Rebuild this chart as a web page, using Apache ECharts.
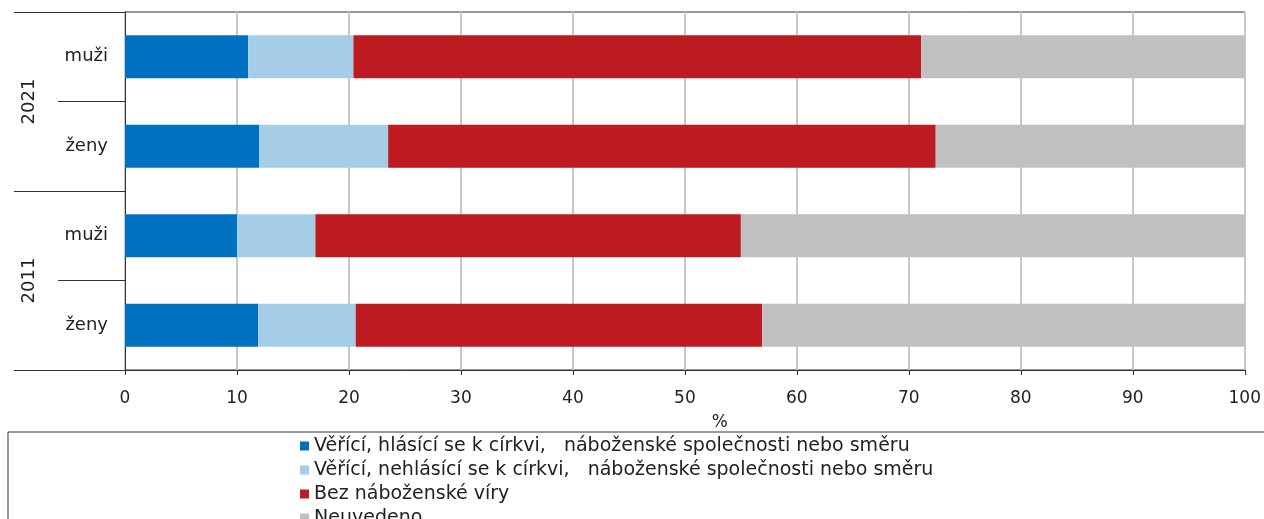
<!DOCTYPE html>
<html>
<head>
<meta charset="utf-8">
<script src="https://cdn.jsdelivr.net/npm/echarts@6/dist/echarts.min.js"></script>
<style>
  html, body { margin: 0; padding: 0; background: #fff; }
  #main { width: 1264px; height: 519px; }
</style>
</head>
<body>
<div id="main"></div>
<script>
// rows, top to bottom
const categories = ['muži', 'ženy', 'muži', 'ženy'];
const years = ['2021', '2011'];
const xTicks = [0, 10, 20, 30, 40, 50, 60, 70, 80, 90, 100];

const names = [
  'Věřící, hlásící se k církvi,   náboženské společnosti nebo směru',
  'Věřící, nehlásící se k církvi,   náboženské společnosti nebo směru',
  'Bez náboženské víry',
  'Neuvedeno'
];
const hlasici = [11.0, 12.0, 10.0, 11.9];
const nehlasici = [9.4, 11.5, 7.0, 8.7];
const bezViry = [50.7, 48.9, 38.0, 36.3];
const neuvedeno = [28.9, 27.6, 45.0, 43.1];

const colors = ['#0070c0', '#a6cde8', '#be1a22', '#c0c0c0'];
const font = 'DejaVu Sans, Liberation Sans, sans-serif';

const chart = echarts.init(document.getElementById('main'));

const seriesData = [hlasici, nehlasici, bezViry, neuvedeno];

chart.setOption({
  animation: false,
  backgroundColor: '#fff',
  color: colors,
  textStyle: { fontFamily: font },
  grid: {
    left: 125, right: 18, top: 12, bottom: 149,
    show: true, borderColor: '#333', borderWidth: 1
  },
  legend: {
    orient: 'vertical',
    left: 8, top: 432,
    height: 200, // keep one column, the box runs off the bottom
    padding: [4, 600, 20, 292],
    borderColor: '#333', borderWidth: 1,
    itemWidth: 9, itemHeight: 9, itemGap: 4,
    icon: 'rect',
    textStyle: { fontSize: 19, lineHeight: 20, color: '#222', fontFamily: font },
    data: names
  },
  xAxis: {
    type: 'value',
    min: 0, max: 100, interval: 10,
    name: '%',
    nameLocation: 'middle',
    nameGap: 44,
    nameTextStyle: { fontSize: 17, color: '#222', padding: [0, 0, 0, 70] },
    axisLine: { show: true, lineStyle: { color: '#333', width: 1 } },
    axisTick: { show: true, length: 5, lineStyle: { color: '#333' } },
    axisLabel: { fontSize: 17, color: '#222', margin: 20,
      formatter: v => xTicks.includes(v) ? String(v) : '' },
    splitLine: { show: true, lineStyle: { color: '#c8c8c8', width: 2 } }
  },
  yAxis: [
    {
      type: 'category',
      inverse: true,
      data: categories,
      axisLine: { show: true, lineStyle: { color: '#333' } },
      axisTick: {
        show: true, length: 67, lineStyle: { color: '#333' },
        interval: (i) => i === 1 || i === 3
      },
      axisLabel: { fontSize: 18, color: '#222', margin: 17 }
    },
    {
      type: 'category',
      position: 'left',
      inverse: true,
      data: years,
      axisLine: { show: true, lineStyle: { color: '#333' } },
      axisTick: { show: true, length: 111, lineStyle: { color: '#333' } },
      axisLabel: { fontSize: 18, color: '#222', rotate: 90, margin: 87 }
    }
  ],
  series: seriesData.map((d, i) => ({
    name: names[i],
    type: 'bar',
    stack: 'total',
    barWidth: 43,
    yAxisIndex: 0,
    data: d
  }))
});
</script>
</body>
</html>
